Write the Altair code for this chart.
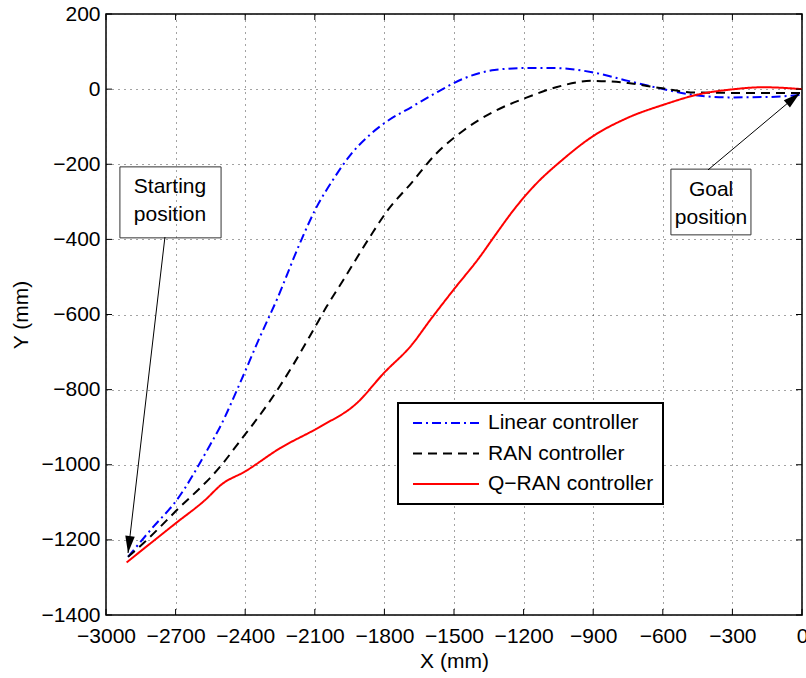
import math
import altair as alt
import pandas as pd

# ---------------- data ----------------
x_ticks = list(range(-3000, 1, 300))
y_ticks = list(range(-1400, 201, 200))

series_names = ["Linear controller", "RAN controller", "Q\u2212RAN controller"]
series_colors = ["#0000ff", "#000000", "#ff0000"]
series_dashes = [[9, 4, 2, 4], [9, 6], [1, 0]]

lin_x = [-2905, -2800, -2695, -2552, -2509, -2422, -2336, -2264, -2164, -2099, -2020, -1941,
         -1860, -1792, -1681, -1570, -1459, -1326, -1193, -1060, -905, -750, -612, -461, -306, -151, 0]
lin_y = [-1245, -1168, -1094, -948, -900, -782, -659, -561, -410, -322, -240, -171,
         -120, -87, -47, -7, 28, 51, 56, 56, 45, 22, 2, -16, -22, -21, -15]

ran_x = [-2905, -2839, -2700, -2501, -2430, -2293, -2207, -2106, -2049, -1977, -1862, -1790,
         -1681, -1582, -1459, -1326, -1193, -1060, -905, -750, -612, -461, -306, -151, 0]
ran_y = [-1245, -1209, -1124, -1000, -943, -830, -748, -641, -579, -508, -393, -326,
         -248, -175, -110, -59, -24, 5, 22, 16, 3, -9, -10, -10, -10]

qran_x = [-2911, -2700, -2573, -2501, -2401, -2250, -2078, -1919, -1804, -1681, -1603,
          -1503, -1388, -1326, -1237, -1149, -1038, -905, -750, -594, -439, -306, -168, 0]
qran_y = [-1260, -1156, -1094, -1052, -1018, -956, -899, -836, -757, -680, -615,
          -535, -446, -392, -317, -254, -191, -127, -76, -41, -13, -1, 5, 0]

# annotations (data coordinates)
ann_text = ["Starting", "position", "Goal", "position"]
ann_x = [-2724, -2724, -392, -392]
ann_y = [-261, -335, -269, -343]

box_x1 = [-2940, -565]
box_x2 = [-2504, -220]
box_y1 = [-207, -213]
box_y2 = [-396, -388]

arrow_tail_x = [-2746, -405]
arrow_tail_y = [-394, -215]
arrow_head_x = [-2905, -9]
arrow_head_y = [-1235, -10]

# ---------------- layout ----------------
W, H = 696, 601
X_DOM = [-3000, 0]
Y_DOM = [-1400, 200]
FONT = "Liberation Sans"
FS = 21

rows = []
for name, xs, ys in zip(series_names, [lin_x, ran_x, qran_x], [lin_y, ran_y, qran_y]):
    for i, (xv, yv) in enumerate(zip(xs, ys)):
        rows.append({"series": name, "order": i, "x": xv, "y": yv})
df = pd.DataFrame(rows)

xs_ = alt.Scale(domain=X_DOM, nice=False, zero=False)
ys_ = alt.Scale(domain=Y_DOM, nice=False, zero=False)

px_x = W / (X_DOM[1] - X_DOM[0])
px_y = H / (Y_DOM[1] - Y_DOM[0])

base_axis_x = alt.Axis(values=x_ticks, format="d", grid=True, title="X (mm)",
                       labelOverlap=False, labelFlush=False)
base_axis_y = alt.Axis(values=y_ticks, format="d", grid=True, title="Y (mm)",
                       labelOverlap=False, labelFlush=False)

lines = alt.Chart(df).mark_line(strokeWidth=2, interpolate="monotone").encode(
    x=alt.X("x:Q", scale=xs_, axis=base_axis_x),
    y=alt.Y("y:Q", scale=ys_, axis=base_axis_y),
    color=alt.Color("series:N", scale=alt.Scale(domain=series_names, range=series_colors),
                    legend=alt.Legend(title=None)),
    strokeDash=alt.StrokeDash("series:N", scale=alt.Scale(domain=series_names, range=series_dashes),
                              legend=alt.Legend(title=None)),
    order="order:Q",
)

# inward ticks (MATLAB style)
xt = pd.DataFrame({"v": x_ticks})
yt = pd.DataFrame({"v": y_ticks})
TL = 6
tick_bottom = alt.Chart(xt).mark_rule(color="black", strokeWidth=1).encode(
    x=alt.X("v:Q", scale=xs_), y=alt.value(H), y2=alt.value(H - TL))
tick_top = alt.Chart(xt).mark_rule(color="black", strokeWidth=1).encode(
    x=alt.X("v:Q", scale=xs_), y=alt.value(0), y2=alt.value(TL))
tick_left = alt.Chart(yt).mark_rule(color="black", strokeWidth=1).encode(
    y=alt.Y("v:Q", scale=ys_), x=alt.value(0), x2=alt.value(TL))
tick_right = alt.Chart(yt).mark_rule(color="black", strokeWidth=1).encode(
    y=alt.Y("v:Q", scale=ys_), x=alt.value(W), x2=alt.value(W - TL))

# annotation boxes
bdf = pd.DataFrame({"x1": box_x1, "x2": box_x2, "y1": box_y1, "y2": box_y2})
boxes = alt.Chart(bdf).mark_rect(fillOpacity=0, stroke="#333333", strokeWidth=1).encode(
    x=alt.X("x1:Q", scale=xs_), x2="x2:Q", y=alt.Y("y1:Q", scale=ys_), y2="y2:Q")

tdf = pd.DataFrame({"x": ann_x, "y": ann_y, "t": ann_text})
texts = alt.Chart(tdf).mark_text(font=FONT, fontSize=FS, color="black",
                                 align="center", baseline="middle").encode(
    x=alt.X("x:Q", scale=xs_), y=alt.Y("y:Q", scale=ys_), text="t:N")

# arrows
angles = []
for tx, ty, hx, hy in zip(arrow_tail_x, arrow_tail_y, arrow_head_x, arrow_head_y):
    dx = (hx - tx) * px_x
    dy = -(hy - ty) * px_y
    ang = math.degrees(math.atan2(dx, -dy)) % 360
    angles.append(ang)
adf = pd.DataFrame({"tx": arrow_tail_x, "ty": arrow_tail_y,
                    "hx": arrow_head_x, "hy": arrow_head_y, "ang": angles})
arrow_lines = alt.Chart(adf).mark_rule(color="black", strokeWidth=1).encode(
    x=alt.X("tx:Q", scale=xs_), y=alt.Y("ty:Q", scale=ys_), x2="hx:Q", y2="hy:Q")
arrow_heads = alt.Chart(adf).mark_point(
    shape="M0,0 L0.28,1 L-0.28,1 Z", filled=True, color="black", opacity=1,
    size=1156, strokeWidth=0).encode(
    x=alt.X("hx:Q", scale=xs_), y=alt.Y("hy:Q", scale=ys_),
    angle=alt.Angle("ang:Q", scale=None))

chart = alt.layer(
    lines, tick_bottom, tick_top, tick_left, tick_right,
    boxes, texts, arrow_lines, arrow_heads
).properties(
    width=W, height=H,
    padding={"left": 106, "top": 14, "right": 4, "bottom": 63},
    autosize="none",
).configure_view(
    stroke="black", strokeWidth=1.5
).configure_axis(
    domain=False, ticks=False,
    gridColor="#333333", gridDash=[1, 5], gridWidth=1, gridOpacity=0.9,
    labelFont=FONT, labelFontSize=FS, labelColor="black",
    titleFont=FONT, titleFontSize=FS, titleFontWeight="normal", titleColor="black",
).configure_axisX(
    labelPadding=10, titlePadding=4,
).configure_axisY(
    labelPadding=6, titlePadding=10,
).configure_legend(
    orient="none", legendX=292, legendY=389,
    fillColor="white", strokeColor="black", strokeWidth=2,
    padding=9, cornerRadius=0,
    labelFont=FONT, labelFontSize=FS, labelColor="black", labelLimit=400,
    labelOffset=8, rowPadding=8.5, clipHeight=22, symbolOffset=5,
    symbolType="stroke", symbolSize=4356, symbolStrokeWidth=2,
)

chart.save("out.html", embed_options={"renderer": "svg", "actions": False})
